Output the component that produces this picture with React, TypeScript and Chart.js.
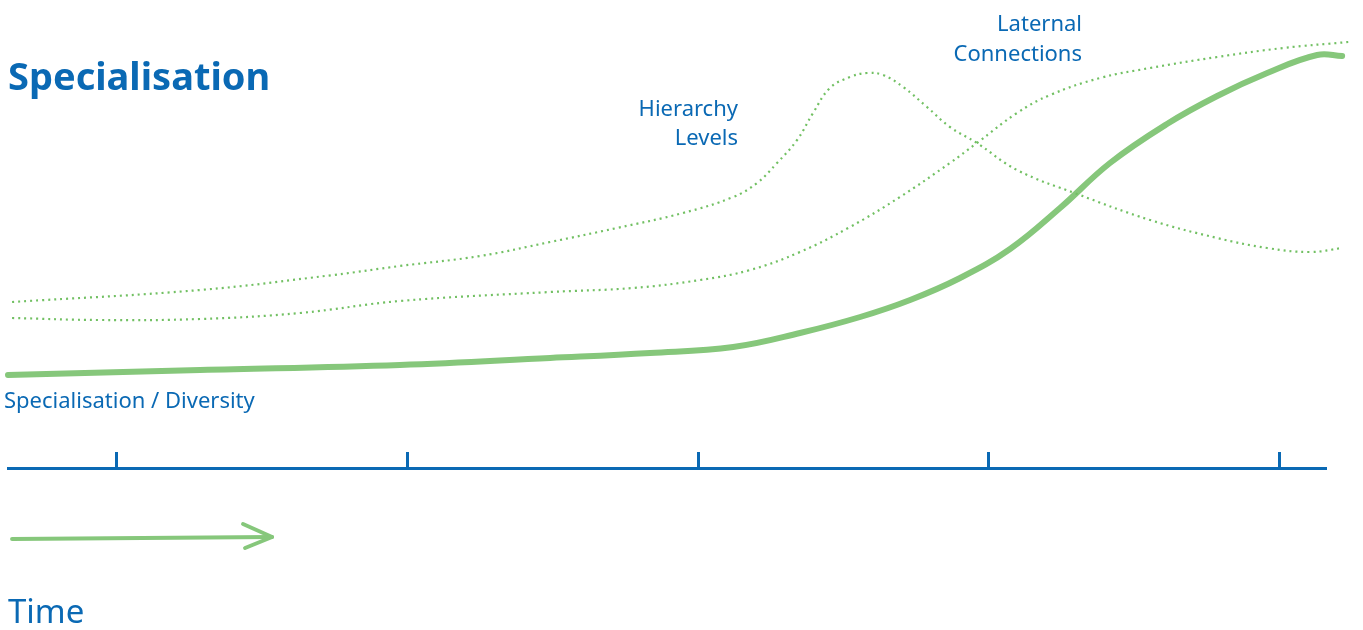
import React, { useEffect, useRef } from "react";
import { Chart, registerables } from "chart.js";

Chart.register(...registerables);

// Time axis ticks (arbitrary time units)
const TIME_TICKS = [1, 2, 3, 4, 5];
const X_MIN = 0.625;
const X_MAX = 5.158;
const Y_MIN = 0;
const Y_MAX = 110;

// Specialisation / Diversity (solid)
const specX = [0.625, 1.286, 1.974, 2.491, 2.835, 3.121, 3.351, 3.558, 3.73, 3.902, 4.074, 4.246, 4.418, 4.614, 4.787, 4.959, 5.131, 5.217];
const specY = [23.25, 24.5, 25.75, 27.5, 28.75, 30.25, 33.75, 37.75, 42, 47.5, 54.75, 65, 76.25, 86, 93, 98.75, 103.25, 103];

// Hierarchy Levels (dotted)
const hierX = [0.639, 1.286, 1.744, 1.974, 2.25, 2.491, 2.721, 2.948, 3.121, 3.203, 3.272, 3.341, 3.396, 3.454, 3.523, 3.582, 3.637, 3.706, 3.788, 3.867, 3.96, 4.098, 4.305, 4.556, 4.787, 4.959, 5.107, 5.217];
const hierY = [41.5, 44.5, 48.25, 50.5, 53, 56.5, 60, 63.75, 67.75, 71.25, 76.25, 82, 88.75, 95, 97.75, 98.75, 98.25, 95.25, 90.25, 85.25, 81.25, 74.5, 68.5, 62, 57.5, 55, 54, 55];

// Laternal Connections (dotted)
const latX = [0.639, 0.941, 1.286, 1.63, 1.974, 2.491, 2.776, 3.007, 3.179, 3.351, 3.523, 3.695, 3.867, 3.96, 4.098, 4.212, 4.384, 4.556, 4.787, 5.014, 5.238];
const latY = [37.5, 37, 37.25, 38.75, 41.75, 44, 45, 47, 49.5, 54, 60.25, 67.75, 76.25, 81.25, 88.75, 93.25, 97.5, 100, 102.75, 105, 106.5];

// Time arrow
const arrowShaftX = [0.639, 1.534];
const arrowShaftY = [-17.75, -17.25];
const arrowHeadX = [1.434, 1.534, 1.441];
const arrowHeadY = [-14, -17.25, -20];

const GREEN = "#86c77b";
const GREEN_DOT = "#72c063";
const BLUE = "#0a69b4";
const FONT = "'Noto Sans', sans-serif";

const zip = (xs: number[], ys: number[]) => xs.map((x, i) => ({ x, y: ys[i] }));

export default function App() {
  const canvasRef = useRef<HTMLCanvasElement | null>(null);

  useEffect(() => {
    if (!canvasRef.current) return;
    const dotted = {
      borderColor: GREEN_DOT,
      borderWidth: 2.2,
      borderDash: [2, 4],
      tension: 0.4,
      pointRadius: 0,
      clip: false,
      fill: false,
    };
    const chart = new Chart(canvasRef.current, {
      type: "line",
      data: {
        datasets: [
          { label: "Hierarchy Levels", data: zip(hierX, hierY), ...dotted },
          { label: "Laternal Connections", data: zip(latX, latY), ...dotted },
          {
            label: "Specialisation / Diversity",
            data: zip(specX, specY),
            borderColor: GREEN,
            borderWidth: 6,
            borderCapStyle: "round",
            tension: 0.4,
            pointRadius: 0,
            clip: false,
            fill: false,
          },
          {
            label: "Time arrow",
            data: zip(arrowShaftX, arrowShaftY),
            borderColor: GREEN,
            borderWidth: 4,
            borderCapStyle: "round",
            tension: 0,
            pointRadius: 0,
            clip: false,
            fill: false,
          },
          {
            label: "Time arrow head",
            data: zip(arrowHeadX, arrowHeadY),
            borderColor: GREEN,
            borderWidth: 4,
            borderCapStyle: "round",
            borderJoinStyle: "round",
            tension: 0,
            pointRadius: 0,
            clip: false,
            fill: false,
          },
        ],
      },
      options: {
        responsive: true,
        maintainAspectRatio: false,
        animation: false,
        layout: { padding: { left: 8, right: 38, top: 28, bottom: 162 } },
        plugins: { legend: { display: false }, tooltip: { enabled: false } },
        scales: {
          x: {
            type: "linear",
            min: X_MIN,
            max: X_MAX,
            afterBuildTicks: (scale: any) => {
              scale.ticks = TIME_TICKS.map((v) => ({ value: v }));
            },
            ticks: { display: false },
            grid: {
              drawOnChartArea: false,
              drawTicks: true,
              tickLength: -16,
              color: BLUE,
              lineWidth: 3,
            },
            border: { display: true, color: BLUE, width: 3 },
          },
          y: {
            type: "linear",
            display: false,
            min: Y_MIN,
            max: Y_MAX,
          },
        },
      },
    } as any);
    return () => chart.destroy();
  }, []);

  const text: React.CSSProperties = {
    position: "absolute",
    fontFamily: FONT,
    color: BLUE,
    whiteSpace: "nowrap",
    margin: 0,
  };

  return (
    <div style={{ position: "absolute", left: 0, top: 0, width: 1363, height: 630, background: "#fff" }}>
      <canvas ref={canvasRef} />
      <div style={{ ...text, left: 8, top: 56, fontSize: 38, fontWeight: 700, lineHeight: "38px" }}>
        Specialisation
      </div>
      <div style={{ ...text, left: 4, top: 388, fontSize: 22, lineHeight: "22px" }}>
        Specialisation / Diversity
      </div>
      <div style={{ ...text, right: 625, top: 93, fontSize: 22, lineHeight: "29px", textAlign: "right" }}>
        Hierarchy
        <br />
        Levels
      </div>
      <div style={{ ...text, right: 281, top: 6.5, fontSize: 22, lineHeight: "30px", textAlign: "right" }}>
        Laternal
        <br />
        Connections
      </div>
      <div style={{ ...text, left: 8, top: 594, fontSize: 33, lineHeight: "33px" }}>
        Time
      </div>
    </div>
  );
}
